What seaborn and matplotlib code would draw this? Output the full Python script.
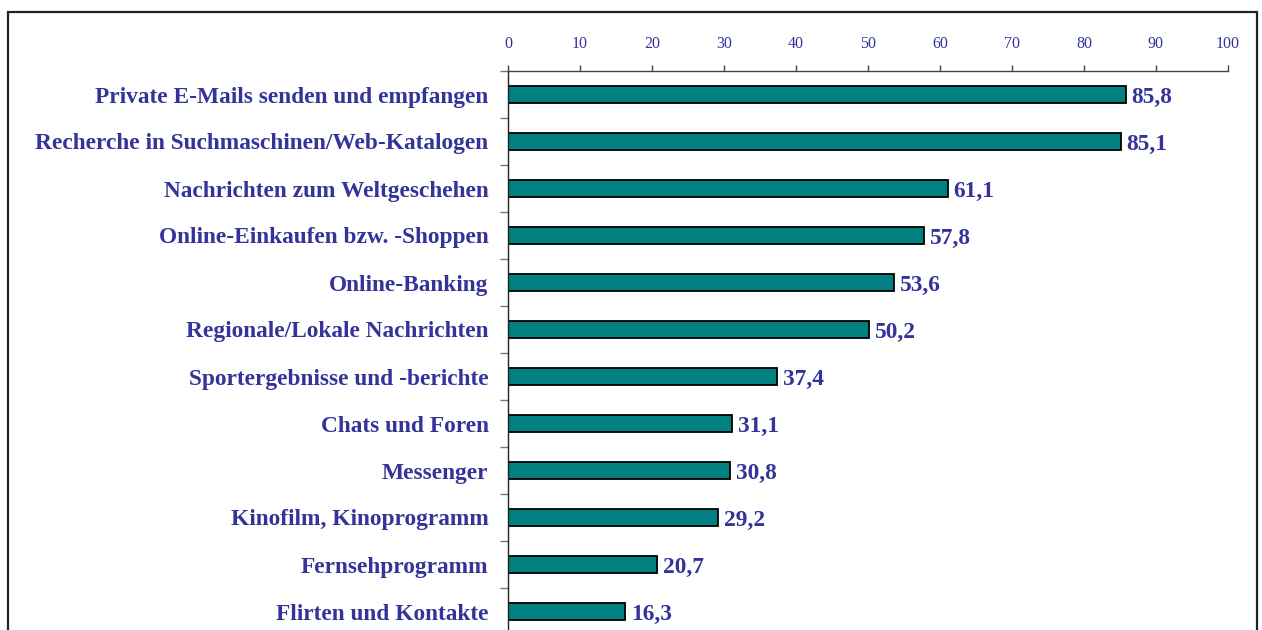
import matplotlib
matplotlib.use('Agg')
import matplotlib.pyplot as plt
import matplotlib.patches as mpatches
import seaborn as sns
import pandas as pd
import numpy as np

# data
kategorien = [
    'Private E-Mails senden und empfangen',
    'Recherche in Suchmaschinen/Web-Katalogen',
    'Nachrichten zum Weltgeschehen',
    'Online-Einkaufen bzw. -Shoppen',
    'Online-Banking',
    'Regionale/Lokale Nachrichten',
    'Sportergebnisse und -berichte',
    'Chats und Foren',
    'Messenger',
    'Kinofilm, Kinoprogramm',
    'Fernsehprogramm',
    'Flirten und Kontakte',
]
werte = [85.8, 85.1, 61.1, 57.8, 53.6, 50.2, 37.4, 31.1, 30.8, 29.2, 20.7, 16.3]
x_ticks = [0, 10, 20, 30, 40, 50, 60, 70, 80, 90, 100]

blau = '#333399'
teal = '#008080'


def main():
    sns.set_style('white')
    plt.rcParams['font.family'] = ['Liberation Serif', 'DejaVu Serif']

    df = pd.DataFrame({'Kategorie': kategorien, 'Wert': werte})

    W, H = 1262, 630
    fig = plt.figure(figsize=(W / 100, H / 100), dpi=100)

    # axes in pixel coords: x 508..1228, y top 71, bottom below image
    top_px = 71
    step = 47
    bottom_px = top_px + step * len(kategorien)
    ax = fig.add_axes([508 / W, 1 - bottom_px / H, 720 / W, (bottom_px - top_px) / H])

    sns.barplot(data=df, x='Wert', y='Kategorie', orient='h', color=teal,
                saturation=1, edgecolor='black', linewidth=1.3, width=0.38, ax=ax)

    ax.set_xlim(0, 100)
    ax.set_ylim(len(kategorien) - 0.5, -0.5)
    ax.set_xlabel('')
    ax.set_ylabel('')

    ax.xaxis.tick_top()
    ax.set_xticks(x_ticks)
    ax.set_xticklabels([str(t) for t in x_ticks])
    ax.tick_params(axis='x', direction='out', length=4.5, width=1, color='#444444',
                   pad=9, labelsize=11.5, labelcolor=blau, top=True, bottom=False)

    ax.set_yticks(range(len(kategorien)))
    ax.set_yticklabels(kategorien, fontsize=16.8, fontweight='bold', color=blau,
                       va='center_baseline')
    ax.tick_params(axis='y', which='major', length=0, pad=14)
    ax.set_yticks(np.arange(-0.5, len(kategorien), 1), minor=True)
    ax.tick_params(axis='y', which='minor', length=6, width=1, color='#777777', left=True)

    for s in ['right', 'bottom']:
        ax.spines[s].set_visible(False)
    ax.spines['top'].set_color('#444444')
    ax.spines['left'].set_color('#222222')
    ax.spines['top'].set_linewidth(1)
    ax.spines['left'].set_linewidth(1)

    for i, v in enumerate(werte):
        ax.text(v + 0.8, i, f'{v:.1f}'.replace('.', ','), va='center_baseline', ha='left',
                fontsize=16.8, fontweight='bold', color=blau)

    # frame around the chart
    rahmen = mpatches.Rectangle((8 / W, -0.05), (1257 - 8) / W, 1.05 - 12 / H,
                                transform=fig.transFigure, fill=False,
                                edgecolor='#222222', linewidth=1.6)
    fig.patches.append(rahmen)

    plt.savefig('out.png', dpi=100)


if __name__ == '__main__':
    main()
